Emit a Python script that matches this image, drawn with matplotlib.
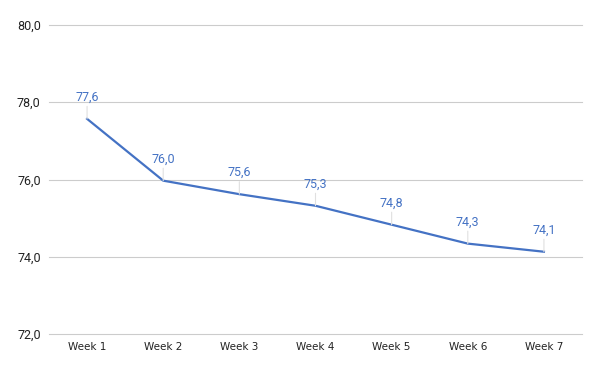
import matplotlib
matplotlib.use("Agg")
import matplotlib.pyplot as plt

weeks = ["Week 1", "Week 2", "Week 3", "Week 4", "Week 5", "Week 6", "Week 7"]
scores = [77.57, 75.97, 75.62, 75.32, 74.83, 74.34, 74.13]
y_ticks = [72, 74, 76, 78, 80]

LINE = "#4472c4"

plt.rcParams["font.family"] = ["Roboto", "DejaVu Sans"]

fig = plt.figure(figsize=(6, 3.71), dpi=100)
ax = fig.add_axes([49 / 600, 1 - 334 / 371, 533 / 600, 309 / 371])

x = range(len(weeks))
ax.plot(x, scores, color=LINE, lw=1.6, solid_joinstyle="round", zorder=3)

for i, v in enumerate(scores):
    # thin leader from the point up to its label
    ax.annotate(f"{v:.1f}".replace(".", ","), xy=(i, v), xytext=(0, 11),
                textcoords="offset points", ha="center", va="bottom",
                fontsize=9, color=LINE,
                arrowprops=dict(arrowstyle="-", color="#e0e0e0", lw=0.8,
                                shrinkA=0, shrinkB=0))

ax.set_xlim(-0.5, len(weeks) - 0.5)
ax.set_ylim(72, 80)
ax.set_yticks(y_ticks)
ax.set_yticklabels([f"{t:.1f}".replace(".", ",") for t in y_ticks],
                   fontsize=9, color="#222222")
ax.set_xticks(list(x))
ax.set_xticklabels(weeks, fontsize=7.5, color="#222222", family="DejaVu Sans")
ax.tick_params(length=0)
ax.tick_params(axis="y", pad=6)
ax.tick_params(axis="x", pad=6)
for t in y_ticks:
    ax.axhline(t, color="#cccccc", lw=0.8, zorder=0, clip_on=False)
for s in ax.spines.values():
    s.set_visible(False)

fig.savefig("out.png", dpi=100)
